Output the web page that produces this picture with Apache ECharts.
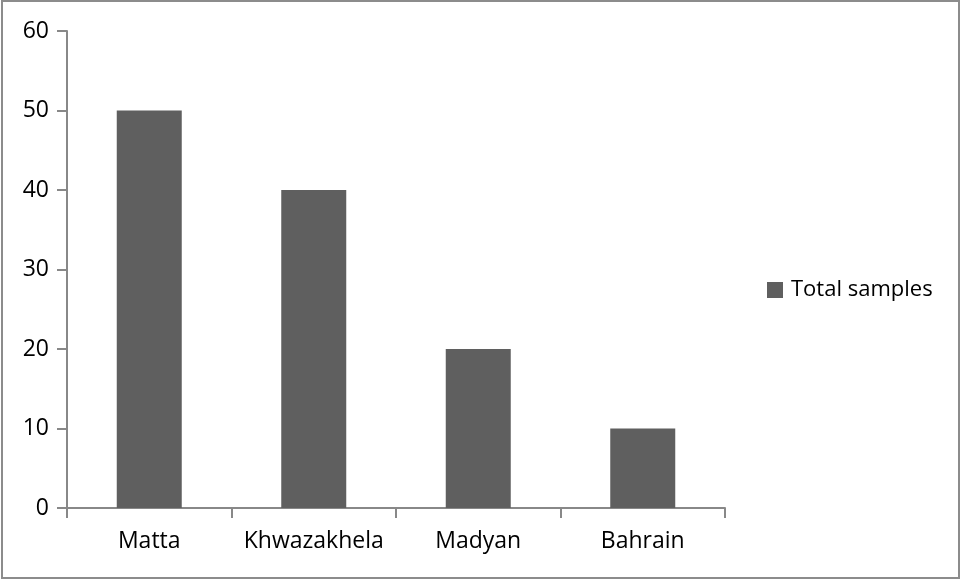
<!DOCTYPE html>
<html>
<head>
<meta charset="utf-8">
<script src="https://cdn.jsdelivr.net/npm/echarts@6/dist/echarts.min.js"></script>
<style>
  html, body { margin: 0; padding: 0; background: #fff; }
  #main { width: 962px; height: 580px; }
</style>
</head>
<body>
<div id="main"></div>
<script>
var categories = ['Matta', 'Khwazakhela', 'Madyan', 'Bahrain'];
var totalSamples = [50, 40, 20, 10];
var yTicks = [0, 10, 20, 30, 40, 50, 60];

var myChart = echarts.init(document.getElementById('main'));
var font = 'Open Sans';
var option = {
    animation: false,
    backgroundColor: '#fff',
    textStyle: { fontFamily: font },
    graphic: [{
        type: 'rect',
        shape: { x: 2, y: 1, width: 957, height: 577 },
        style: { fill: 'none', stroke: '#8c8c8c', lineWidth: 2 },
        silent: true
    }],
    legend: {
        data: ['Total samples'],
        orient: 'vertical',
        left: 762,
        top: 274,
        icon: 'rect',
        itemWidth: 16,
        itemHeight: 16,
        textStyle: { fontSize: 22, color: '#000', fontFamily: font, padding: [0, 0, 0, 3] }
    },
    grid: {
        left: 67,
        right: 237,
        top: 31,
        bottom: 72,
        containLabel: false
    },
    xAxis: {
        type: 'category',
        data: categories,
        axisLine: { lineStyle: { color: '#888', width: 2 } },
        axisTick: { show: true, length: 10, lineStyle: { color: '#888', width: 2 } },
        axisLabel: { fontSize: 23, color: '#000', margin: 22, interval: 0 }
    },
    yAxis: {
        type: 'value',
        min: yTicks[0],
        max: yTicks[yTicks.length - 1],
        interval: 10,
        splitLine: { show: false },
        axisLine: { show: true, lineStyle: { color: '#888', width: 2 } },
        axisTick: { show: true, length: 10, lineStyle: { color: '#888', width: 2 } },
        axisLabel: { fontSize: 23, color: '#000', margin: 18 }
    },
    series: [{
        name: 'Total samples',
        type: 'bar',
        data: totalSamples,
        barWidth: 65,
        itemStyle: { color: '#5f5f5f' }
    }]
};
myChart.setOption(option);
</script>
</body>
</html>
